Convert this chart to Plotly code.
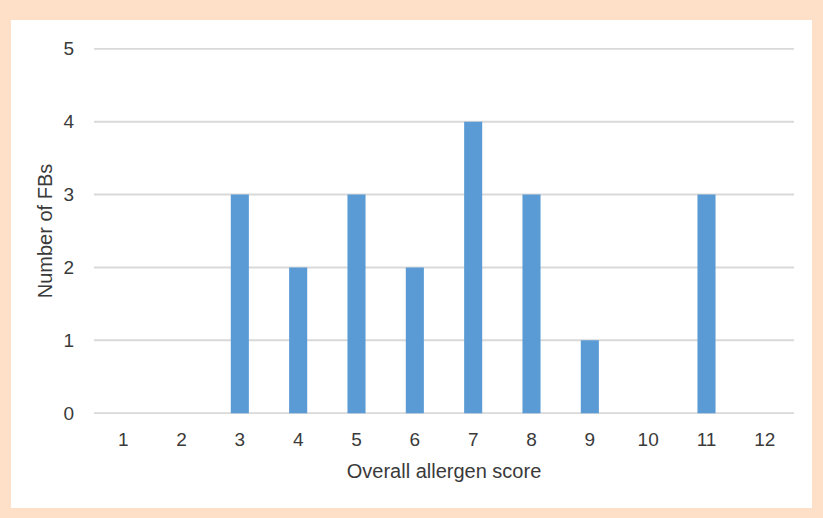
import plotly.graph_objects as go

categories = ["1", "2", "3", "4", "5", "6", "7", "8", "9", "10", "11", "12"]
counts = [0, 0, 3, 2, 3, 2, 4, 3, 1, 0, 3, 0]
y_ticks = [0, 1, 2, 3, 4, 5]

W, H = 823, 518
L, R, T, B = 94, 29, 48, 104
pw, ph = W - L - R, H - T - B

def px_x(p):
    return (p - L) / pw

def px_y(p):
    return (H - B - p) / ph

fig = go.Figure(go.Bar(x=categories, y=counts, marker_color="#5B9BD5",
                       marker_line_width=0))

tick_font = dict(family="Liberation Sans, Arial, sans-serif", size=19, color="#3A3A3A")
title_font = dict(family="Liberation Sans, Arial, sans-serif", size=20, color="#3A3A3A")

shapes = [dict(type="rect", xref="paper", yref="paper",
               x0=px_x(11), x1=px_x(812), y0=px_y(508), y1=px_y(20),
               fillcolor="white", line_width=0, layer="below")]
for v in y_ticks:
    shapes.append(dict(type="line", xref="paper", yref="y", x0=0, x1=1, y0=v, y1=v,
                       line=dict(color="#D9D9D9", width=2), layer="below"))

fig.update_layout(
    width=W, height=H,
    margin=dict(l=L, r=R, t=T, b=B),
    paper_bgcolor="#FEE0C8",
    plot_bgcolor="rgba(0,0,0,0)",
    bargap=0.69,
    showlegend=False,
    font=tick_font,
    shapes=shapes,
    xaxis=dict(type="category", showgrid=False, zeroline=False,
               showline=False, ticks="outside", ticklen=8, tickcolor="rgba(0,0,0,0)",
               tickfont=tick_font,
               title=dict(text="Overall allergen score", font=title_font, standoff=15)),
    yaxis=dict(range=[-0.01, 5.01], tickvals=y_ticks, showgrid=False,
               zeroline=False, showline=False,
               ticks="outside", ticklen=15, tickcolor="rgba(0,0,0,0)",
               tickfont=tick_font,
               title=dict(text="Number of FBs", font=title_font, standoff=5)),
)

fig.write_html("out.html", config={"displayModeBar": False})
with open("out.html", encoding="utf-8") as f:
    html = f.read()
html = html.replace("<head>", "<head><style>html,body{margin:0;padding:0;}</style>", 1)
with open("out.html", "w", encoding="utf-8") as f:
    f.write(html)
